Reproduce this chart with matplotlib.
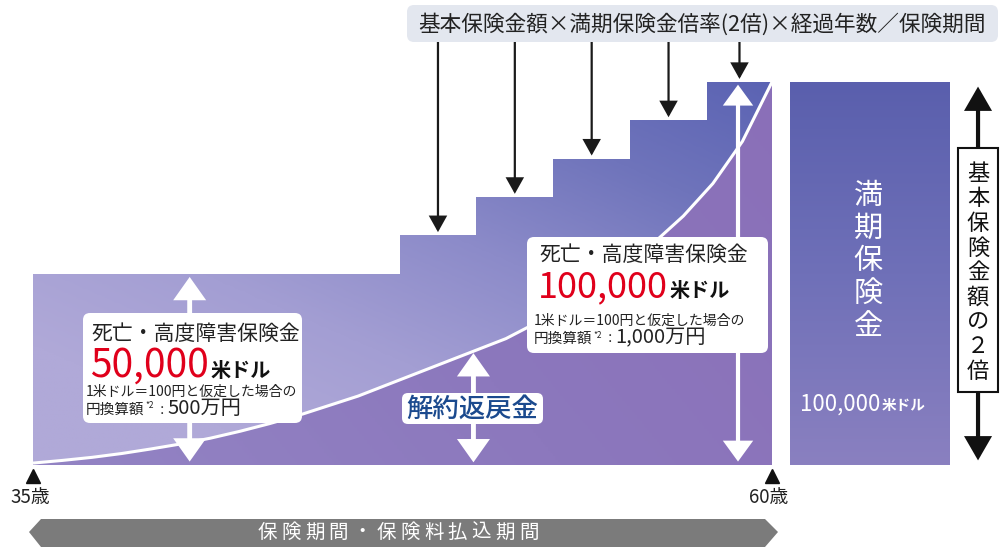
import numpy as np
import matplotlib
matplotlib.use('Agg')
import matplotlib.pyplot as plt
from matplotlib.patches import Polygon, FancyBboxPatch, Rectangle, FancyArrowPatch
from matplotlib.colors import LinearSegmentedColormap

plt.rcParams['font.family'] = ['Noto Sans CJK JP', 'DejaVu Sans']

# ---------------- data ----------------
curve_ages = list(range(35, 61))
surrender_k = [0.5, 1.2, 2.0, 3.0, 4.2, 5.5, 7.0, 8.8, 10.8, 13.0, 15.5, 18.0, 21.0,
               24.0, 27.0, 30.0, 33.0, 37.0, 41.5, 46.5, 52.0, 58.0, 65.0, 73.5, 84.5, 100.0]
surrender = [v * 1000 for v in surrender_k]
step_ages = [35, 47.4, 50.0, 52.6, 55.2, 57.8]
death_benefit = [50000, 60000, 70000, 80000, 90000, 100000]
end_age = 60
maturity = 100000
maturity_span = [60.6, 66.0]
age_labels = ['35歳', '60歳']
label_ages = [35, 60]

# ---------------- layout ----------------
W, H = 1005, 547
PXY = 29.56          # px per year
PXV = 3.83 / 1000    # px per currency unit
X0, Y0 = 33, 465     # pixel of (35, 0)

fig = plt.figure(figsize=(W / 100, H / 100), dpi=100)
fig.patch.set_facecolor('white')
ax = fig.add_axes([0, 0, 1, 1])
ax.axis('off')
XL = (35 - X0 / PXY, 35 + (W - X0) / PXY)
YL = (-(H - Y0) / PXV, Y0 / PXV)

ov = fig.add_axes([0, 0, 1, 1])
ov.set_xlim(0, W)
ov.set_ylim(H, 0)
ov.axis('off')
ov.patch.set_alpha(0)

# staircase (death benefit) region
st_x, st_y = [35], [0]
for i, a in enumerate(step_ages):
    st_x += [a, a]
    st_y += [death_benefit[i - 1] if i > 0 else 0, death_benefit[i]]
st_x += [end_age, end_age]
st_y += [death_benefit[-1], 0]
stair_poly = Polygon(list(zip(st_x, st_y)), closed=True, transform=ax.transData,
                     fc='none', ec='none')
ax.add_patch(stair_poly)

nx, ny = 300, 300
gx, gy = np.meshgrid(np.linspace(0, 1, nx), np.linspace(0, 1, ny))
g = np.clip(0.55 * gx + 0.65 * gy - 0.2, 0, 1)
cm_stair = LinearSegmentedColormap.from_list('st', ['#b0a9d8', '#a39ed3', '#8c8bc9', '#6f74bb', '#5b63b3'])
im1 = ax.imshow(g, extent=[35, end_age, 0, maturity], origin='lower', cmap=cm_stair,
                aspect='auto', zorder=1, vmin=0, vmax=1)
im1.set_clip_path(stair_poly)

# surrender value region
cv_pts = list(zip(curve_ages, surrender)) + [(end_age, 0), (35, 0)]
cv_poly = Polygon(cv_pts, closed=True, transform=ax.transData, fc='none', ec='none')
ax.add_patch(cv_poly)
g2 = np.clip(0.7 * gx + 0.3 * gy, 0, 1)
cm_cv = LinearSegmentedColormap.from_list('cv', ['#9384c4', '#8c78bd', '#8a6fb8'])
im2 = ax.imshow(g2, extent=[35, end_age, 0, maturity], origin='lower', cmap=cm_cv,
                aspect='auto', zorder=2, vmin=0, vmax=1)
im2.set_clip_path(cv_poly)
ax.plot(curve_ages, surrender, color='white', lw=2.2, zorder=3, solid_capstyle='butt',
        solid_joinstyle='round')

# maturity bar
mrect = Rectangle((maturity_span[0], 0), maturity_span[1] - maturity_span[0], maturity,
                  transform=ax.transData, fc='none', ec='none')
ax.add_patch(mrect)
cm_m = LinearSegmentedColormap.from_list('m', ['#8a80c0', '#6f70b8', '#5a5fad'])
im3 = ax.imshow(np.linspace(0, 1, 200).reshape(-1, 1), extent=[maturity_span[0], maturity_span[1], 0, maturity],
                origin='lower', cmap=cm_m, aspect='auto', zorder=1)
im3.set_clip_path(mrect)


def px2val(py):
    return (Y0 - py) / PXV


def arrow(ax_, p0, p1, color, lw, hl, hw, style='<|-|>', z=5):
    a = FancyArrowPatch(p0, p1, arrowstyle=f'{style},head_length={hl},head_width={hw}',
                        mutation_scale=1, color=color, lw=lw, shrinkA=0, shrinkB=0,
                        zorder=z, joinstyle='miter', capstyle='butt')
    ax_.add_patch(a)


# white double arrows
db_age = 40.3
arrow(ax, (db_age, 900), (db_age, death_benefit[0] - 900), 'white', 3.5, 12, 8.5)
arrow(ax, (58.85, 900), (58.85, maturity - 700), 'white', 3.0, 11, 8)
sv_age = 50
arrow(ax, (49.9, 700), (49.9, surrender[curve_ages.index(sv_age)] - 800), 'white', 3.5, 12, 8.5)

# black down arrows to each step
top_val = px2val(42)
for i in range(1, len(step_ages)):
    a0 = step_ages[i]
    a1 = step_ages[i + 1] if i + 1 < len(step_ages) else end_age
    mid = (a0 + a1) / 2
    arrow(ax, (mid, top_val), (mid, death_benefit[i] + 800), '#1a1a1a', 1.6, 9.5, 5.3, style='-|>', z=6)

# right black double arrow
arrow(ax, (66.97, 1200), (66.97, maturity - 1200), '#111111', 3.0, 13, 7.5)

# age triangles
ax.plot(label_ages, [px2val(476)] * 2, ls='none', marker='^', ms=10, color='#111111', zorder=6)

ax.set_xlim(*XL)
ax.set_ylim(*YL)

# ---------------- overlay annotations ----------------
fig.canvas.draw()
R = fig.canvas.get_renderer()


def right_of(t):
    bb = t.get_window_extent(renderer=R)
    return bb.x1  # display px == overlay px (x)


def box(x0, y0, x1, y1, fc='white', ec='none', r=7, lw=0, z=7):
    p = FancyBboxPatch((x0, y0), x1 - x0, y1 - y0, boxstyle=f'round,pad=0,rounding_size={r}',
                       fc=fc, ec=ec, lw=lw, zorder=z)
    ov.add_patch(p)


# top formula box
box(407, 5, 998, 42, fc='#e3e7ef')
ov.text(702, 24, '基本保険金額×満期保険金倍率(2倍)×経過年数／保険期間', fontsize=15.6,
        ha='center', va='center', color='#222222', zorder=8)


def benefit_box(x0, y0, x1, y1, tx, title_y, num, num_base, small_y, last_y, conv, nfs):
    box(x0, y0, x1, y1)
    ov.text(tx, title_y, '死亡・高度障害保険金', fontsize=15, ha='left', va='center', color='#222222', zorder=8)
    t = ov.text(tx - 1, num_base, num, fontsize=nfs, ha='left', va='baseline', color='#e0001b', zorder=8)
    ov.text(right_of(t) + 2, num_base, '米ドル', fontsize=14.5, fontweight='bold', ha='left',
            va='baseline', color='#111111', zorder=8)
    ov.text(tx - 5, small_y, '1米ドル＝100円と仮定した場合の', fontsize=10, ha='left', va='center',
            color='#222222', zorder=8)
    t1 = ov.text(tx - 5, last_y, '円換算額', fontsize=10.5, ha='left', va='center', color='#222222', zorder=8)
    t2 = ov.text(right_of(t1) + 1, last_y - 4, '*2', fontsize=6, ha='left', va='center', color='#222222', zorder=8)
    t3 = ov.text(right_of(t2) + 2, last_y + 1, '：', fontsize=9, ha='left', va='center', color='#222222', zorder=8)
    ov.text(right_of(t3) - 1, last_y - 1, conv, fontsize=14.5, ha='left', va='center', color='#222222', zorder=8)


benefit_box(83, 313, 302, 423, 91, 334, '50,000', 377, 392, 410, '500万円', 28)
benefit_box(527, 237, 768, 353, 539, 255, '100,000', 297, 321, 339, '1,000万円', 26)

# surrender label
box(402, 393, 543, 424, r=6)
ov.text(472.5, 409, '解約返戻金', fontsize=19, fontweight='medium', ha='center', va='center',
        color='#1b4a8e', zorder=8)

# maturity bar text
for i, ch in enumerate('満期保険金'):
    ov.text(868, 196 + i * 32.7, ch, fontsize=21, ha='center', va='center', color='white', zorder=8)
tm = ov.text(800, 404, '100,000', fontsize=16, ha='left', va='center', color='white', zorder=8)
ov.text(right_of(tm) + 1, 405, '米ドル', fontsize=10.5, fontweight='bold', ha='left', va='center',
        color='white', zorder=8)

# right vertical label box
ov.add_patch(Rectangle((958, 148), 40, 244, fc='white', ec='#111111', lw=1.5, zorder=7))
for i, ch in enumerate('基本保険金額の２倍'):
    ov.text(978, 174 + i * 24.7, ch, fontsize=16, ha='center', va='center', color='#111111', zorder=8)

# age labels
for a, lab in zip(label_ages, age_labels):
    ov.text(X0 + (a - 35) * PXY - 3, 498, lab, fontsize=13.5, ha='center', va='center',
            color='#222222', zorder=8)

# bottom period bar
ov.add_patch(Polygon([(29, 532), (41, 519), (765, 519), (778, 532), (765, 547), (41, 547)],
                     closed=True, fc='#7b7b7b', ec='none', zorder=7))
s = '保険期間・保険料払込期間'
pitch = 23.8
x_start = 398 - pitch * (len(s) - 1) / 2
for i, ch in enumerate(s):
    ov.text(x_start + i * pitch, 532, ch, fontsize=14, ha='center', va='center', color='white', zorder=8)

fig.savefig('out.png', dpi=100, facecolor='white')
